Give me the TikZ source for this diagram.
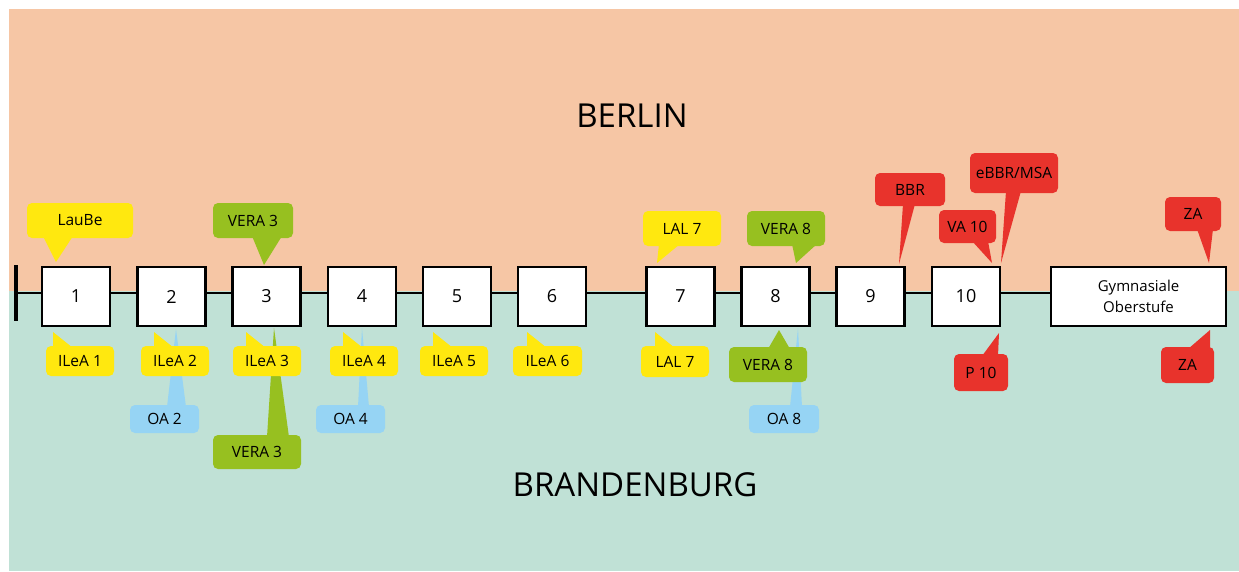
\documentclass[tikz,border=0pt]{standalone}
\usepackage{fontspec}
\setmainfont{Open Sans}
\definecolor{peach}{HTML}{F6C6A5}
\definecolor{teal}{HTML}{C0E1D6}
\definecolor{cyel}{HTML}{FFE80F}
\definecolor{cgrn}{HTML}{97C020}
\definecolor{cblu}{HTML}{96D4F4}
\definecolor{cred}{HTML}{E8332C}
\tikzset{
  yearbox/.style={draw=black, line width=2.2pt, fill=white, minimum width=68pt, minimum height=59pt, inner sep=0pt, font=\fontsize{18}{20}\selectfont},
  callout/.style={rounded corners=5pt, inner sep=0pt, font=\fontsize{15.5}{17}\selectfont},
  title/.style={font=\fontsize{33}{36}\selectfont, inner sep=0pt}
}
\newcommand{\callnode}[7]{% name, color, x1, x2, y1, y2, text
  \node[callout, fill=#2, minimum width={#4-#3}, minimum height={#6-#5}] (#1) at ({(#3+#4)/2},{(#5+#6)/2}) {#7};}
\begin{document}
\begin{tikzpicture}[x=1pt,y=-1pt]
\useasboundingbox (0,0) rectangle (1239,571);
\fill[peach] (9,9) rectangle (1239,291);
\fill[teal] (9,291) rectangle (1239,571);

\node[title] (berlin) at (632,116) {BERLIN};
\node[title] (brand) at (635,485) {BRANDENBURG};

% timeline
\coordinate (tl) at (16,293);
\draw[line width=3.5pt] (16,265) -- (16,321);
\draw[line width=2.5pt] (tl) -- (1050,293);

% tails (drawn behind)
% blue
\fill[cblu] (176,329) -- (167,407) -- (186,407) -- cycle;
\fill[cblu] (362,328) -- (358,407) -- (369,407) -- cycle;
\fill[cblu] (798,328) -- (790,407) -- (802,407) -- cycle;
\callnode{oa2}{cblu}{130}{199}{405}{433}{OA 2}
\callnode{oa4}{cblu}{316}{385}{405}{433}{OA 4}
\callnode{oa8}{cblu}{749}{819}{405}{433}{OA 8}
% green
\fill[cgrn] (274,328) -- (267,437) -- (289,437) -- cycle;
\fill[cgrn] (779,330) -- (768,349) -- (790,349) -- cycle;
\fill[cgrn] (264,265) -- (252,236) -- (282,236) -- cycle;
\fill[cgrn] (796,263) -- (792,244) -- (817,244) -- cycle;
\callnode{vera3b}{cgrn}{213}{301}{435}{469}{VERA 3}
\callnode{vera8b}{cgrn}{729}{807}{347}{382}{VERA 8}
\callnode{vera3t}{cgrn}{213}{293}{203}{238}{VERA 3}
\callnode{vera8t}{cgrn}{747}{825}{211}{246}{VERA 8}
% yellow
\fill[cyel] (56,262) -- (43,236) -- (73,236) -- cycle;
\fill[cyel] (657,263) -- (659,244) -- (680,244) -- cycle;
\foreach \t in {53,154,246,343,433,527,655} {
  \fill[cyel] (\t,332) -- (\t,348) -- (\t+20,348) -- cycle;
}
\callnode{laube}{cyel}{27}{133}{203}{238}{LauBe}
\callnode{lal7t}{cyel}{643}{721}{211}{246}{LAL 7}
\callnode{ilea1}{cyel}{46}{114}{346}{376}{ILeA 1}
\callnode{ilea2}{cyel}{141}{209}{346}{376}{ILeA 2}
\callnode{ilea3}{cyel}{233}{301}{346}{376}{ILeA 3}
\callnode{ilea4}{cyel}{330}{398}{346}{376}{ILeA 4}
\callnode{ilea5}{cyel}{420}{488}{346}{376}{ILeA 5}
\callnode{ilea6}{cyel}{513}{582}{346}{376}{ILeA 6}
\callnode{lal7b}{cyel}{641}{709}{346}{377}{LAL 7}
% red
\fill[cred] (899,264) -- (903,204) -- (915,204) -- cycle;
\fill[cred] (992,263) -- (972,241) -- (988,241) -- cycle;
\fill[cred] (1001,263) -- (1006,191) -- (1021,191) -- cycle;
\fill[cred] (1209,263) -- (1197,229) -- (1213,229) -- cycle;
\fill[cred] (999,333) -- (982,356) -- (998,356) -- cycle;
\fill[cred] (1210,330) -- (1188,349) -- (1210,349) -- cycle;
\callnode{bbr}{cred}{875}{945}{173}{206}{BBR}
\callnode{va10}{cred}{939}{996}{210}{243}{VA 10}
\callnode{ebbr}{cred}{970}{1058}{153}{193}{eBBR/MSA}
\callnode{zat}{cred}{1165}{1221}{197}{231}{ZA}
\callnode{p10}{cred}{954}{1008}{354}{391}{P 10}
\callnode{zab}{cred}{1161}{1214}{347}{383}{ZA}

% year boxes
\node[yearbox] (b1) at (76,296.5) {1};
\node[yearbox] (b2) at (171.5,296.5) {2};
\node[yearbox] (b3) at (266.5,296.5) {3};
\node[yearbox] (b4) at (362,296.5) {4};
\node[yearbox] (b5) at (457,296.5) {5};
\node[yearbox] (b6) at (552,296.5) {6};
\node[yearbox] (b7) at (680.5,296.5) {7};
\node[yearbox] (b8) at (775.5,296.5) {8};
\node[yearbox] (b9) at (870.5,296.5) {9};
\node[yearbox] (b10) at (966,296.5) {10};
\node[yearbox, minimum width=175pt, align=center, font=\fontsize{15}{21}\selectfont] (gym) at (1138.5,296.5) {Gymnasiale\\Oberstufe};
\end{tikzpicture}
\end{document}
